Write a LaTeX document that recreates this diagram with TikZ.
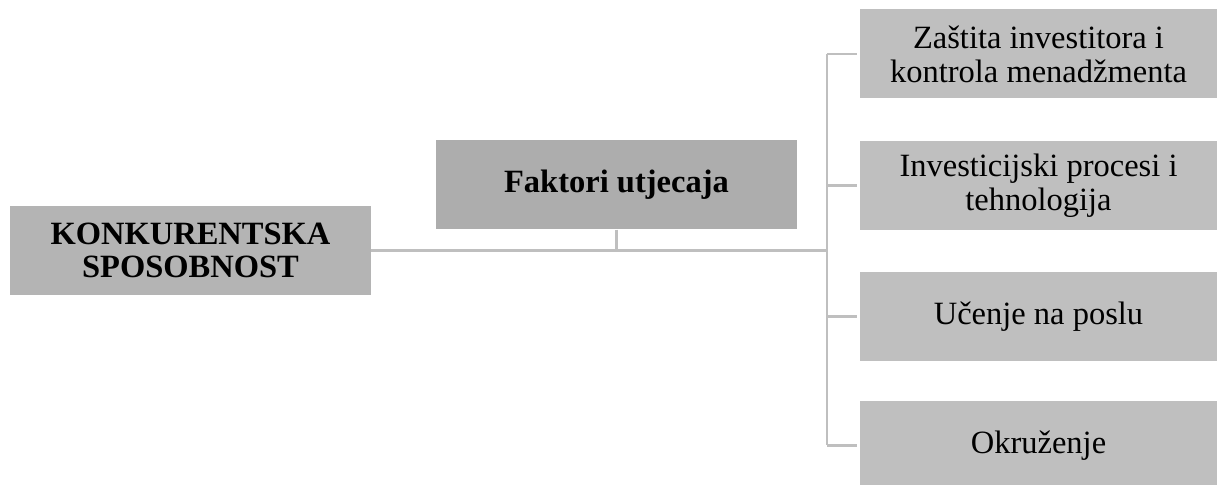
\documentclass[tikz,border=0pt]{standalone}
\usepackage{fontspec}
\setmainfont{Liberation Serif}
\definecolor{boxL}{HTML}{B4B4B4}
\definecolor{boxF}{HTML}{ADADAD}
\definecolor{boxR}{HTML}{BFBFBF}
\definecolor{lineC}{HTML}{BFBFBF}
\tikzset{
  basebox/.style={rectangle, minimum height=89bp, inner sep=0pt, align=center,
    font=\fontsize{32.5bp}{34bp}\selectfont, text=black},
  mainbox/.style={basebox, fill=boxL, minimum width=361bp, font=\fontsize{32.5bp}{32.5bp}\selectfont\bfseries},
  factbox/.style={basebox, fill=boxF, minimum width=361bp, font=\fontsize{32.5bp}{34bp}\selectfont\bfseries},
  itembox/.style={basebox, fill=boxR, minimum width=357bp},
  conn/.style={draw=lineC, line width=2.5bp}
}
\begin{document}
\begin{tikzpicture}[x=1bp,y=1bp]
\useasboundingbox (0,0) rectangle (1217,485);
\clip (0,0) rectangle (1217,485);
\node[mainbox] (main) at (190.5,234.5) {KONKURENTSKA\\SPOSOBNOST};
\node[factbox] (fak) at (616.5,300) {Faktori utjecaja};
\node[itembox] (b1) at (1038.5,431) {Zaštita investitora i\\kontrola menadžmenta};
\node[itembox] (b2) at (1038.5,299.5) {Investicijski procesi i\\tehnologija};
\node[itembox] (b3) at (1038.5,168.5) {Učenje na poslu};
\node[itembox] (b4) at (1038.5,39.5) {Okruženje};
\coordinate (sp) at (827,235);
\draw[conn] (main.east) -- (main.east -| sp);
\draw[conn] (fak.south) -- (fak.south |- sp);
\draw[conn] (b1 -| sp) -- (b4 -| sp);
\foreach \b in {b1,b2,b3,b4}{
  \draw[conn] ([xshift=-3bp]\b.west) -- (\b -| sp);
}
\end{tikzpicture}
\end{document}
